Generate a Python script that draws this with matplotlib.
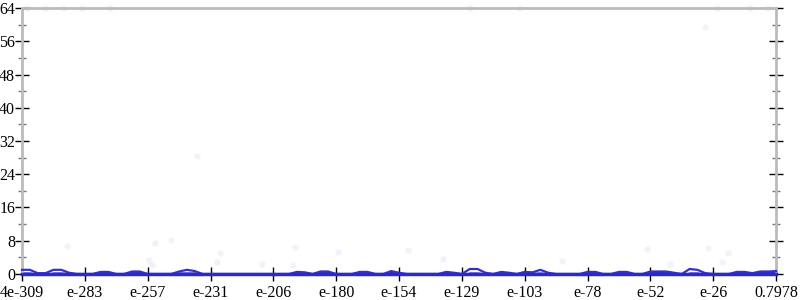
import matplotlib

matplotlib.use("Agg")
import matplotlib.pyplot as plt
import numpy as np

# x tick labels (log-scale bin edges as printed on the chart)
TICK_LABELS = ["4e-309", "e-283", "e-257", "e-231", "e-206", "e-180", "e-154",
               "e-129", "e-103", "e-78", "e-52", "e-26", "0.7978"]

# outer curve (counts per bin)
upper = [1.0, 1.0, 0.2, 0.2, 1.0, 1.0, 0.3, 0.0, 0.0, 0.0,
         0.5, 0.5, 0.0, 0.0, 0.6, 0.6, 0.0, 0.0, 0.0, 0.0,
         0.6, 1.0, 0.7, 0.0, 0.0, 0.0, 0.0, 0.0, 0.0, 0.0,
         0.0, 0.0, 0.0, 0.0, 0.0, 0.5, 0.4, 0.0, 0.6, 0.6,
         0.0, 0.0, 0.0, 0.5, 0.5, 0.0, 0.0, 0.7, 0.3, 0.0,
         0.0, 0.0, 0.0, 0.0, 0.5, 0.3, 0.0, 1.2, 1.2, 0.3,
         0.0, 0.5, 0.3, 0.0, 0.5, 0.4, 1.0, 0.3, 0.0, 0.0,
         0.0, 0.0, 0.5, 0.5, 0.0, 0.0, 0.5, 0.5, 0.0, 0.0,
         0.6, 0.6, 0.6, 0.3, 0.0, 1.2, 1.0, 0.2, 0.0, 0.0,
         0.0, 0.5, 0.5, 0.2, 0.6, 0.6, 0.7]
# inner filled curve
lower = [0.5, 0.5, 0.2, 0.2, 0.5, 0.5, 0.3, 0.0, 0.0, 0.0,
         0.5, 0.5, 0.0, 0.0, 0.6, 0.6, 0.0, 0.0, 0.0, 0.0,
         0.5, 0.5, 0.5, 0.0, 0.0, 0.0, 0.0, 0.0, 0.0, 0.0,
         0.0, 0.0, 0.0, 0.0, 0.0, 0.5, 0.4, 0.0, 0.6, 0.6,
         0.0, 0.0, 0.0, 0.5, 0.5, 0.0, 0.0, 0.7, 0.3, 0.0,
         0.0, 0.0, 0.0, 0.0, 0.5, 0.3, 0.0, 0.5, 0.5, 0.3,
         0.0, 0.5, 0.3, 0.0, 0.5, 0.4, 0.5, 0.3, 0.0, 0.0,
         0.0, 0.0, 0.5, 0.5, 0.0, 0.0, 0.5, 0.5, 0.0, 0.0,
         0.6, 0.6, 0.6, 0.3, 0.0, 0.5, 0.5, 0.2, 0.0, 0.0,
         0.0, 0.5, 0.5, 0.2, 0.6, 0.6, 0.7]

# faint individual samples
pts_x = [5.7, 16.9, 19.0, 16.2, 16.6, 25.2, 24.8, 34.8, 40.2, 49.1, 53.6,
         30.6, 34.5, 79.6, 87.3, 89.9, 89.1, 68.8, 82.5, 22.3, 87.0,
         0.6, 2.9, 5.2, 7.6, 11.2, 57.0, 63.4, 88.5, 92.7, 94.9]
pts_y = [6.7, 7.5, 8.2, 3.4, 2.2, 5.1, 2.9, 6.5, 5.3, 5.8, 3.6,
         2.4, 2.2, 6.0, 6.3, 5.1, 2.9, 3.1, 2.4, 28.4, 59.4,
         64, 64, 64, 64, 64, 64, 64, 64, 64, 64]

FONT = "Liberation Serif"
FONT_SIZE = 11.5

x = np.arange(len(upper))

fig = plt.figure(figsize=(8, 3), dpi=100)
ax = fig.add_axes([0.0275, 0.0867, 0.9425, 0.8866])

ax.scatter(pts_x, pts_y, s=22, color="#5050d0", alpha=0.07, linewidths=0,
           clip_on=False, zorder=1)
ax.fill_between(x, 0, lower, color="#2a2ac8", linewidth=0, zorder=2)
ax.plot(x, upper, color="#3232c8", linewidth=1.6, zorder=3,
        solid_joinstyle="round", clip_on=False)
ax.plot(x, np.zeros(len(x)), color="#2a2ac8", linewidth=2.5, zorder=3,
        clip_on=False)

ax.set_xlim(0, len(upper) - 1)
ax.set_ylim(0, 64)
ax.set_xticks(np.arange(0, len(upper), 8))
ax.set_xticklabels(TICK_LABELS)
ax.set_yticks(np.arange(0, 65, 8))
ax.set_yticks(np.arange(4, 64, 8), minor=True)

for side in ("left", "right", "top", "bottom"):
    ax.spines[side].set_color("#bbbbbb")
    ax.spines[side].set_linewidth(2)

ax.tick_params(axis="y", which="major", direction="inout", length=10, width=1,
               color="black", left=True, right=True, labelsize=FONT_SIZE, pad=0)
ax.tick_params(axis="y", which="minor", direction="inout", length=6, width=1,
               color="#777777", left=True, right=True)
ax.tick_params(axis="x", which="major", direction="inout", length=10, width=1,
               color="black", labelsize=FONT_SIZE, pad=3)
for lab in ax.get_xticklabels() + ax.get_yticklabels():
    lab.set_family(FONT)

fig.savefig("out.png")
